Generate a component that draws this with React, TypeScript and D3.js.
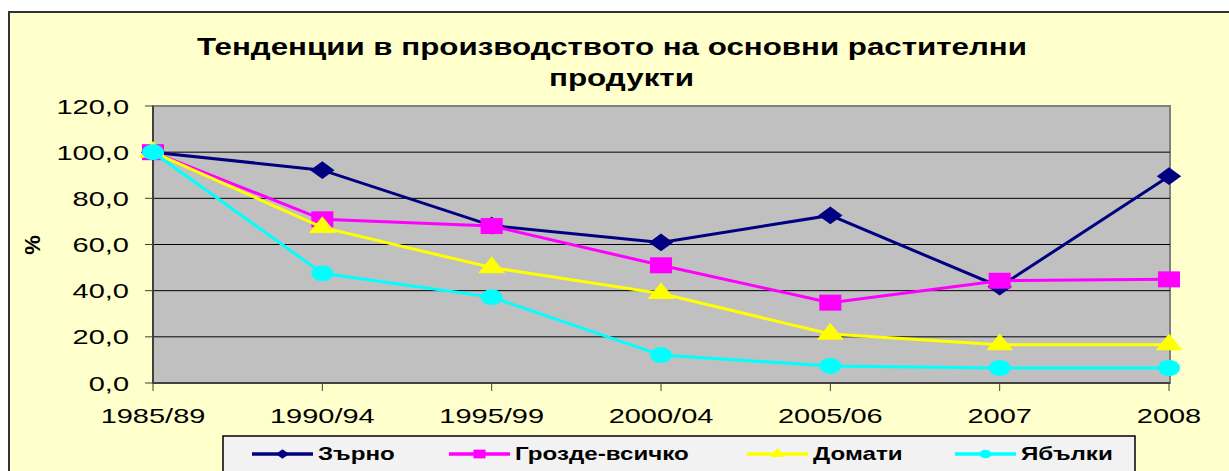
import React from "react";
import { scalePoint, scaleLinear, line, symbol, symbolDiamond2, symbolSquare, symbolTriangle, symbolCircle } from "d3";

// categories and series (index, 1985/89 = 100)
const periods = ["1985/89", "1990/94", "1995/99", "2000/04", "2005/06", "2007", "2008"];
const grain = [100, 92.2, 68.2, 60.9, 72.6, 41.7, 89.6];
const grapes = [100, 70.9, 68.0, 51.0, 34.8, 44.3, 44.9];
const tomatoes = [100, 67.4, 50.0, 38.8, 21.2, 16.6, 16.6];
const apples = [100, 47.5, 37.2, 12.1, 7.4, 6.5, 6.5];
const yTicks = [0, 20, 40, 60, 80, 100, 120];

const series = [
  { name: "Зърно", values: grain, color: "#000080", shape: symbolDiamond2, size: 200 },
  { name: "Грозде-всичко", values: grapes, color: "#FF00FF", shape: symbolSquare, size: 256 },
  { name: "Домати", values: tomatoes, color: "#FFFF00", shape: symbolTriangle, size: 165 },
  { name: "Ябълки", values: apples, color: "#00FFFF", shape: symbolCircle, size: 200 },
];

const W = 1229, H = 471;
const plot = { left: 153, right: 1170, top: 106, bottom: 383 };
const SX = 1.38; // the whole picture is stretched sideways

// text drawn with the same horizontal stretch as the reference
function WideText({ x, y, anchor = "start", size, bold = false, sx = SX, children }: any) {
  return (
    <text transform={`translate(${x},${y}) scale(${sx},1)`} textAnchor={anchor}
      fontSize={size} fontWeight={bold ? "bold" : "normal"}>{children}</text>
  );
}

export default function App() {
  const x = scalePoint<string>().domain(periods).range([plot.left, plot.right - 1]);
  const y = scaleLinear().domain([0, 120]).range([plot.bottom, plot.top]);
  const fmt = (v: number) => v.toFixed(1).replace(".", ",");

  const lineGen = line<number>()
    .x((d, i) => x(periods[i]) as number)
    .y(d => y(d));

  const legendX = [252, 449, 747, 955];

  return (
    <svg width={W} height={H} style={{ position: "fixed", left: 0, top: 0, background: "#fff" }}
      fontFamily="'Liberation Sans', Arial, sans-serif">
      {/* chart frame */}
      <rect x={9} y={12} width={W} height={H} fill="#FFFFCC" stroke="#333" strokeWidth={2} />

      {/* title */}
      <text x={197} y={55} fontSize={23} fontWeight="bold"
        textLength={830} lengthAdjust="spacingAndGlyphs">Тенденции в производството на основни растителни</text>
      <text x={549} y={86} fontSize={23} fontWeight="bold"
        textLength={145} lengthAdjust="spacingAndGlyphs">продукти</text>

      {/* plot area */}
      <rect x={plot.left} y={plot.top} width={plot.right - plot.left} height={plot.bottom - plot.top}
        fill="#C0C0C0" stroke="#808080" strokeWidth={2} />
      {yTicks.filter(t => t > 0 && t < 120).map(t => (
        <line key={t} x1={plot.left} x2={plot.right} y1={y(t)} y2={y(t)} stroke="#000" strokeWidth={1} />
      ))}
      <line x1={plot.left} x2={plot.left} y1={plot.top} y2={plot.bottom} stroke="#404040" strokeWidth={2} />
      <line x1={plot.left} x2={plot.right} y1={plot.bottom} y2={plot.bottom} stroke="#404040" strokeWidth={2} />

      {/* y axis */}
      {yTicks.map(t => (
        <g key={t}>
          <line x1={145} x2={plot.left} y1={y(t)} y2={y(t)} stroke="#404040" strokeWidth={1} />
          <WideText x={129} y={y(t) + 7.5} anchor="end" size={21}>{fmt(t)}</WideText>
        </g>
      ))}
      <text transform="translate(40,245) rotate(-90)" textAnchor="middle" fontSize={22} fontWeight="bold">%</text>

      {/* x axis */}
      {periods.map(p => (
        <g key={p}>
          <line x1={x(p)} x2={x(p)} y1={plot.bottom} y2={plot.bottom + 8} stroke="#404040" strokeWidth={1} />
          <WideText x={x(p)} y={423} anchor="middle" size={21}>{p}</WideText>
        </g>
      ))}

      {/* series */}
      {series.map(s => (
        <g key={s.name}>
          <path d={lineGen(s.values) ?? ""} fill="none" stroke={s.color} strokeWidth={3} />
          {s.values.map((v, i) => (
            <path key={i} transform={`translate(${x(periods[i])},${y(v)}) scale(${SX},1)`}
              d={symbol(s.shape, s.size)() ?? ""} fill={s.color} />
          ))}
        </g>
      ))}

      {/* legend */}
      <rect x={223} y={436} width={912} height={50} fill="#F2F2F2" stroke="#000" strokeWidth={1.5} />
      {series.map((s, i) => (
        <g key={s.name}>
          <line x1={legendX[i]} x2={legendX[i] + 61} y1={454} y2={454} stroke={s.color} strokeWidth={3.5} />
          <path transform={`translate(${legendX[i] + 30.5},454) scale(${SX},1)`} d={symbol(s.shape, s.size * 0.3)() ?? ""} fill={s.color} />
          <WideText x={legendX[i] + 66} y={460} size={17.5} bold>{s.name}</WideText>
        </g>
      ))}
    </svg>
  );
}
